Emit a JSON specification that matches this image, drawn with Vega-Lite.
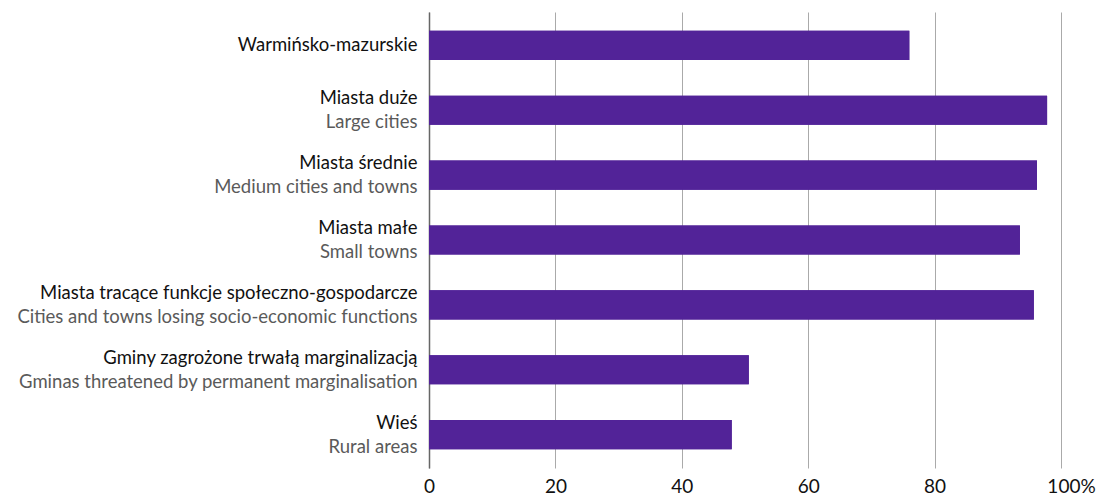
{
  "$schema": "https://vega.github.io/schema/vega-lite/v6.json",
  "autosize": "none",
  "width": 632,
  "height": 456,
  "padding": {"left": 429, "top": 12, "right": 35, "bottom": 29},
  "background": "white",
  "config": {"view": {"stroke": null}, "font": "Lato"},
  "data": {
    "values": [
      {"key": "Warmińsko-mazurskie|", "value": 76.0, "order": 1},
      {"key": "Miasta duże|Large cities", "value": 97.8, "order": 2},
      {"key": "Miasta średnie|Medium cities and towns", "value": 96.2, "order": 3},
      {"key": "Miasta małe|Small towns", "value": 93.5, "order": 4},
      {"key": "Miasta tracące funkcje społeczno-gospodarcze|Cities and towns losing socio-economic functions", "value": 95.7, "order": 5},
      {"key": "Gminy zagrożone trwałą marginalizacją|Gminas threatened by permanent marginalisation", "value": 50.6, "order": 6},
      {"key": "Wieś|Rural areas", "value": 47.9, "order": 7}
    ]
  },
  "layer": [
    {
      "mark": {"type": "bar", "color": "#522398"},
      "encoding": {
        "y": {
          "field": "key", "type": "nominal", "sort": {"field": "order"},
          "scale": {"paddingInner": 0.55, "paddingOuter": 0.29},
          "axis": {
            "title": null, "ticks": false, "grid": false,
            "domainColor": "#666", "domainWidth": 1.5,
            "labelExpr": "split(datum.value, '|')[0]",
            "labelFontSize": 18.5, "labelColor": "#111", "labelPadding": 12,
            "labelLimit": 500,
            "labelOffset": {"condition": {"test": "indexof(datum.value, 'Warmi') == 0", "value": 0}, "value": -12}
          }
        },
        "x": {
          "field": "value", "type": "quantitative",
          "scale": {"domain": [0, 100]},
          "axis": {
            "title": null, "values": [0, 20, 40, 60, 80, 100], "domain": false, "ticks": false,
            "gridColor": "#aaa", "gridWidth": 1,
            "labelExpr": "datum.value == 100 ? '100%' : datum.label",
            "labelFontSize": 19, "labelColor": "#111", "labelPadding": 9, "labelFlush": false,
            "labelOffset": {"condition": {"test": "datum.value == 100", "value": 10}, "value": 0}
          }
        }
      }
    },
    {
      "mark": {"type": "bar", "color": "#522398"},
      "encoding": {
        "y": {
          "field": "key", "type": "nominal", "sort": {"field": "order"},
          "axis": {
            "title": null, "ticks": false, "grid": false, "domain": false, "orient": "left",
            "labelExpr": "split(datum.value, '|')[1]",
            "labelFontSize": 18.5, "labelColor": "#5a5a5a", "labelPadding": 12,
            "labelLimit": 500, "labelOffset": 12
          }
        },
        "x": {"field": "value", "type": "quantitative"}
      }
    }
  ],
  "resolve": {"axis": {"y": "independent"}}
}
